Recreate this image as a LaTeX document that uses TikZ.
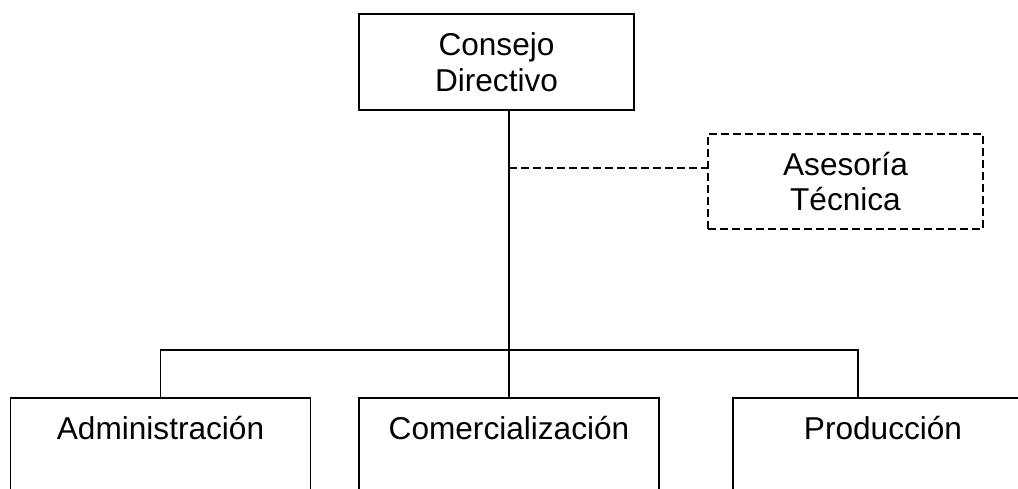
\documentclass[tikz,border=0pt]{standalone}
\usepackage{fontspec}
\setmainfont{Liberation Sans}
\tikzset{
  orgfont/.style={font=\fontsize{31.6}{35.5}\selectfont},
  topbox/.style={draw, line width=1.8pt, orgfont, align=center, inner sep=0pt},
  advbox/.style={draw, line width=1.8pt, dash pattern=on 8pt off 4pt, orgfont, align=center, inner sep=0pt},
  unitbox/.style={draw, line width=1.8pt, orgfont, minimum width=300pt, inner ysep=0pt,
                  text height=42pt, text depth=120pt, anchor=north},
  link/.style={line width=1.8pt},
  dlink/.style={line width=1.8pt, dash pattern=on 8pt off 4pt},
}
\begin{document}
\begin{tikzpicture}[x=1pt,y=-1pt]
\useasboundingbox (0,0) rectangle (1018,489);
\clip (0,0) rectangle (1018,489);
\node[topbox, minimum width=275pt, minimum height=96pt] (cd) at (496.5,62) {Consejo\\Directivo};
\node[advbox, minimum width=275pt, minimum height=95pt] (at) at (845.5,181.5) {Asesoría\\Técnica};
\node[unitbox] (adm) at (160.5,397) {Administración};
\node[unitbox] (com) at (509,397) {Comercialización};
\node[unitbox] (pro) at (883,397) {Producción};
\coordinate (trunk) at (509,350);
\coordinate (adv) at (509,168);
\coordinate (pb) at (858,350);
\draw[link] (trunk |- cd.south) -- (com.north);
\draw[link] (adm.north) -- (adm.north |- trunk) -- (pb) -- (pb |- pro.north);
\draw[dlink] (adv) -- (at.west |- adv);
\end{tikzpicture}
\end{document}
